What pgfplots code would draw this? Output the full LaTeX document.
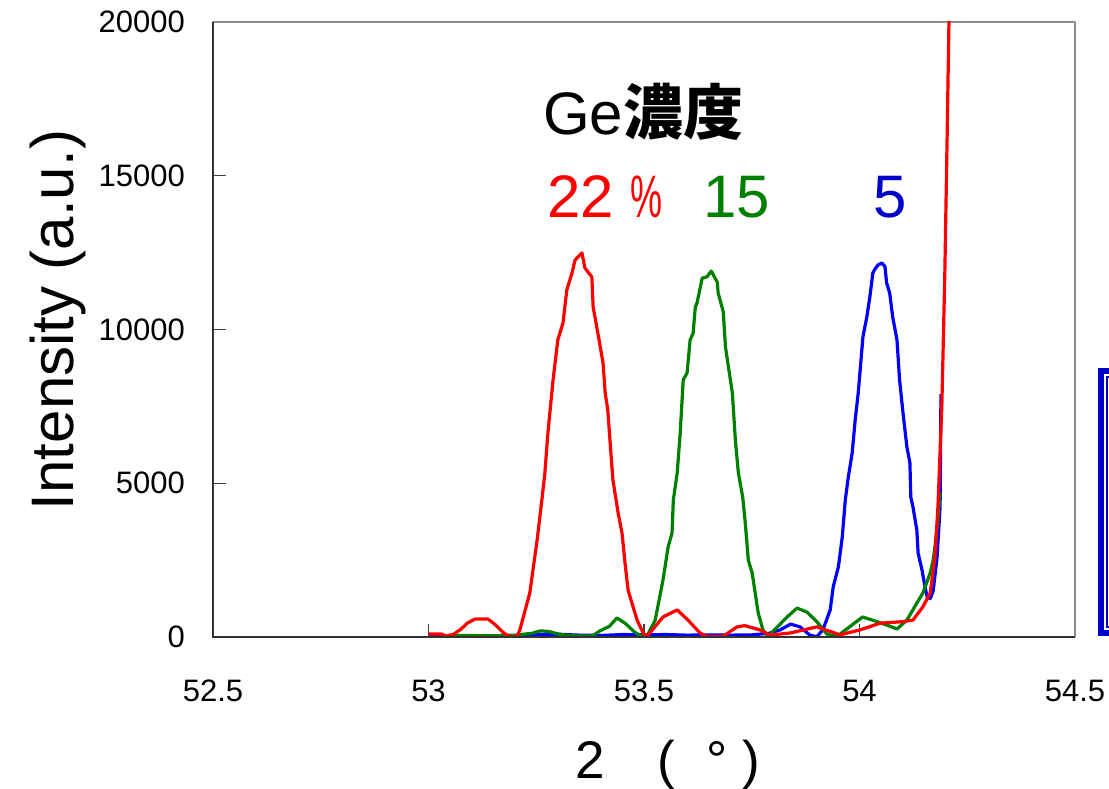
\documentclass[border=0pt]{standalone}
\usepackage{pgfplots}
\pgfplotsset{compat=1.18}
\usepackage{graphicx}
\usepackage{fontspec}
\setmainfont{Liberation Sans}
\newfontfamily\cjk{Noto Sans CJK JP}

\definecolor{cRed}{RGB}{255,0,0}
\definecolor{cGreen}{RGB}{0,128,0}
\definecolor{cBlue}{RGB}{0,0,255}
\definecolor{cBlueText}{RGB}{0,0,204}

\begin{document}
\begin{tikzpicture}
\begin{axis}[
  scale only axis,
  width=862pt, height=615pt,
  xmin=52.5, xmax=54.5, ymin=0, ymax=20000,
  xtick={52.5,53,53.5,54,54.5},
  xticklabels={52.5,53,53.5,54,54.5},
  ytick={0,5000,10000,15000,20000},
  yticklabels={0,5000,10000,15000,20000},
  scaled y ticks=false,
  tick align=inside,
  xtick pos=bottom, ytick pos=left,
  major tick length=13pt,
  every tick/.style={black!75, line width=1.2pt},
  axis line style={draw=black!45, line width=1.8pt},
  tick label style={font=\fontsize{31}{31}\selectfont},
  xticklabel style={anchor=base, yshift=-64pt},
  yticklabel style={anchor=east, inner sep=0pt, xshift=-28pt},
  line join=round,
]
% Ge 5 %
\addplot[cBlue, line width=3.2pt] coordinates {
(53.000,40) (53.100,30) (53.200,40) (53.250,80) (53.300,90) (53.350,60)
(53.400,50) (53.450,80) (53.500,70) (53.550,80) (53.600,60) (53.650,70)
(53.700,60) (53.750,70) (53.790,120) (53.816,230) (53.840,420) (53.862,330)
(53.885,60) (53.901,10) (53.915,230) (53.932,880) (53.939,1630) (53.951,2280)
(53.960,3250) (53.967,4450) (53.974,5200) (53.983,5980) (53.990,7060)
(53.997,7930) (54.001,8590) (54.008,9760) (54.017,10410) (54.024,11060)
(54.031,11840) (54.036,11970) (54.043,12100) (54.052,12160) (54.059,12050)
(54.063,11510) (54.070,11190) (54.077,10410) (54.087,9660) (54.093,8360)
(54.101,7280) (54.110,6180) (54.117,5660) (54.119,4550) (54.124,4230)
(54.133,3480) (54.136,2730) (54.145,2180) (54.152,1630) (54.157,1300)
(54.164,1250) (54.171,1500) (54.180,2600) (54.187,4230) (54.189,7900)
};
% Ge 15 %
\addplot[cGreen, line width=3.2pt] coordinates {
(53.060,50) (53.150,40) (53.200,60) (53.240,120) (53.259,200) (53.280,180)
(53.300,100) (53.330,40) (53.380,30) (53.398,200) (53.420,350) (53.437,620)
(53.456,450) (53.479,150) (53.498,0) (53.507,30) (53.526,550) (53.544,1850)
(53.556,2930) (53.565,3380) (53.568,4450) (53.577,5330) (53.584,6630)
(53.591,8360) (53.600,8590) (53.607,9660) (53.614,9880) (53.619,10730)
(53.623,10860) (53.635,11670) (53.646,11710) (53.656,11900) (53.670,11540)
(53.672,11190) (53.684,10570) (53.689,9430) (53.698,8590) (53.705,7930)
(53.712,6400) (53.719,5330) (53.729,4550) (53.735,3710) (53.742,2500)
(53.751,2080) (53.758,1430) (53.765,780) (53.776,230) (53.788,20)
(53.832,650) (53.855,940) (53.878,810) (53.901,500) (53.924,100)
(53.947,10) (53.977,330) (54.007,650) (54.030,550) (54.063,390)
(54.087,260) (54.110,550) (54.133,1100) (54.147,1430) (54.164,2080)
(54.171,2500) (54.175,2930) (54.182,3800) (54.187,4700)
};
% Ge 22 %
\addplot[cRed, line width=3.2pt] coordinates {
(53.000,100) (53.030,100) (53.040,30) (53.057,80) (53.075,250) (53.090,450)
(53.108,585) (53.138,585) (53.155,400) (53.173,150) (53.189,0) (53.205,10)
(53.212,230) (53.235,1430) (53.252,3150) (53.263,4450) (53.270,5330)
(53.277,6630) (53.289,8360) (53.300,9660) (53.312,10210) (53.321,11290)
(53.333,11840) (53.340,12260) (53.356,12490) (53.363,12000) (53.379,11710)
(53.382,10730) (53.393,9880) (53.405,8910) (53.410,7930) (53.416,7380)
(53.421,6400) (53.428,5100) (53.440,4030) (53.449,3380) (53.456,2410)
(53.463,1530) (53.472,1100) (53.484,550) (53.498,130) (53.507,20)
(53.544,650) (53.577,880) (53.602,550) (53.630,130) (53.646,20)
(53.683,20) (53.716,330) (53.734,370) (53.769,230) (53.792,60)
(53.839,130) (53.901,330) (53.955,70) (54.001,230) (54.048,450)
(54.101,500) (54.124,550) (54.147,980) (54.164,1430) (54.175,2600)
(54.182,4230) (54.191,7480) (54.198,11840) (54.203,16000) (54.208,20400)
};
\end{axis}
% darker left and bottom axis lines
\draw[black!80, line width=1.8pt] (0pt,615pt) -- (0pt,0pt) -- (862pt,0pt);

% axis titles
\node[rotate=90, inner sep=0pt, font=\fontsize{60}{60}\selectfont]
  at (-155pt,317pt) {Intensity (a.u.)};
\node[anchor=base west, inner sep=0pt, font=\fontsize{53}{53}\selectfont]
  at (362pt,-141pt) {2\hspace{53pt}(\hspace{31pt}°\hspace{15pt})};

% concentration labels
\node[anchor=base west, inner sep=0pt, font=\fontsize{60}{60}\selectfont]
  at (330pt,502pt) {Ge{\cjk\bfseries 濃度}};
\node[anchor=base west, inner sep=0pt, text=cRed, font=\fontsize{60}{60}\selectfont]
  at (334pt,419pt) {22 \scalebox{0.6}[1]{\%}};
\node[anchor=base west, inner sep=0pt, text=cGreen, font=\fontsize{60}{60}\selectfont]
  at (490pt,419pt) {15};
\node[anchor=base west, inner sep=0pt, text=cBlueText, font=\fontsize{60}{60}\selectfont]
  at (660pt,419pt) {5};

% framed box at the right edge
\begin{scope}
  \clip (-213pt,-151pt) rectangle (896pt,637pt);
  \draw[cBlueText, line width=6pt] (888pt,4pt) rectangle (960pt,266pt);
  \draw[cBlueText, line width=1.2pt] (894pt,10pt) rectangle (960pt,260pt);
\end{scope}

\pgfresetboundingbox
\useasboundingbox (-213pt,-151pt) rectangle (896pt,637pt);
\end{tikzpicture}
\end{document}
